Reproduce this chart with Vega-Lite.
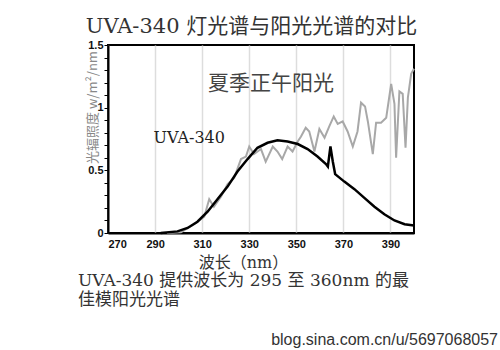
{
  "$schema": "https://vega.github.io/schema/vega-lite/v6.json",
  "background": "white",
  "padding": {"left": 77, "top": 16, "right": 0, "bottom": 0},
  "title": {"text": "blog.sina.com.cn/u/5697068057", "orient": "bottom", "anchor": "end", "dx": 78, "offset": 23, "font": "Liberation Sans", "fontSize": 16, "fontWeight": "normal", "color": "#333"},
  "config": {"view": {"stroke": "black", "strokeWidth": 2}, "concat": {"spacing": 0}},
  "datasets": {
    "spec": [
      {"series": "UVA-340", "wl": 292.4, "v": 0.0},
      {"series": "UVA-340", "wl": 299.5, "v": 0.013},
      {"series": "UVA-340", "wl": 303.8, "v": 0.04},
      {"series": "UVA-340", "wl": 308.0, "v": 0.09},
      {"series": "UVA-340", "wl": 312.3, "v": 0.17},
      {"series": "UVA-340", "wl": 316.5, "v": 0.27},
      {"series": "UVA-340", "wl": 320.8, "v": 0.37},
      {"series": "UVA-340", "wl": 325.0, "v": 0.49},
      {"series": "UVA-340", "wl": 329.3, "v": 0.59},
      {"series": "UVA-340", "wl": 333.5, "v": 0.68},
      {"series": "UVA-340", "wl": 337.8, "v": 0.72},
      {"series": "UVA-340", "wl": 342.0, "v": 0.74},
      {"series": "UVA-340", "wl": 346.3, "v": 0.73},
      {"series": "UVA-340", "wl": 350.6, "v": 0.71},
      {"series": "UVA-340", "wl": 354.8, "v": 0.67},
      {"series": "UVA-340", "wl": 359.0, "v": 0.61},
      {"series": "UVA-340", "wl": 362.6, "v": 0.55},
      {"series": "UVA-340", "wl": 363.4, "v": 0.53},
      {"series": "UVA-340", "wl": 364.5, "v": 0.69},
      {"series": "UVA-340", "wl": 365.5, "v": 0.57},
      {"series": "UVA-340", "wl": 366.5, "v": 0.47},
      {"series": "UVA-340", "wl": 370.4, "v": 0.41},
      {"series": "UVA-340", "wl": 374.7, "v": 0.35},
      {"series": "UVA-340", "wl": 378.9, "v": 0.28},
      {"series": "UVA-340", "wl": 383.2, "v": 0.21},
      {"series": "UVA-340", "wl": 387.4, "v": 0.15},
      {"series": "UVA-340", "wl": 391.7, "v": 0.10},
      {"series": "UVA-340", "wl": 396.0, "v": 0.07},
      {"series": "UVA-340", "wl": 400.0, "v": 0.06},
      {"series": "夏季正午阳光", "wl": 295.0, "v": 0.0},
      {"series": "夏季正午阳光", "wl": 301.0, "v": 0.005},
      {"series": "夏季正午阳光", "wl": 306.6, "v": 0.07},
      {"series": "夏季正午阳光", "wl": 310.9, "v": 0.13},
      {"series": "夏季正午阳光", "wl": 313.0, "v": 0.27},
      {"series": "夏季正午阳光", "wl": 315.0, "v": 0.21},
      {"series": "夏季正午阳光", "wl": 318.0, "v": 0.29},
      {"series": "夏季正午阳光", "wl": 320.8, "v": 0.39},
      {"series": "夏季正午阳光", "wl": 323.6, "v": 0.44},
      {"series": "夏季正午阳光", "wl": 326.5, "v": 0.59},
      {"series": "夏季正午阳光", "wl": 328.6, "v": 0.61},
      {"series": "夏季正午阳光", "wl": 330.0, "v": 0.69},
      {"series": "夏季正午阳光", "wl": 332.0, "v": 0.63},
      {"series": "夏季正午阳光", "wl": 335.0, "v": 0.67},
      {"series": "夏季正午阳光", "wl": 337.0, "v": 0.57},
      {"series": "夏季正午阳光", "wl": 340.0, "v": 0.69},
      {"series": "夏季正午阳光", "wl": 342.0, "v": 0.65},
      {"series": "夏季正午阳光", "wl": 344.0, "v": 0.59},
      {"series": "夏季正午阳光", "wl": 346.3, "v": 0.69},
      {"series": "夏季正午阳光", "wl": 348.4, "v": 0.65},
      {"series": "夏季正午阳光", "wl": 350.6, "v": 0.73},
      {"series": "夏季正午阳光", "wl": 352.0, "v": 0.77},
      {"series": "夏季正午阳光", "wl": 354.0, "v": 0.84},
      {"series": "夏季正午阳光", "wl": 355.5, "v": 0.81},
      {"series": "夏季正午阳光", "wl": 357.7, "v": 0.65},
      {"series": "夏季正午阳光", "wl": 359.8, "v": 0.83},
      {"series": "夏季正午阳光", "wl": 362.0, "v": 0.76},
      {"series": "夏季正午阳光", "wl": 364.0, "v": 0.85},
      {"series": "夏季正午阳光", "wl": 365.9, "v": 0.93},
      {"series": "夏季正午阳光", "wl": 367.6, "v": 0.87},
      {"series": "夏季正午阳光", "wl": 369.7, "v": 0.89},
      {"series": "夏季正午阳光", "wl": 371.8, "v": 0.81},
      {"series": "夏季正午阳光", "wl": 374.0, "v": 0.69},
      {"series": "夏季正午阳光", "wl": 376.0, "v": 0.81},
      {"series": "夏季正午阳光", "wl": 377.5, "v": 1.04},
      {"series": "夏季正午阳光", "wl": 379.2, "v": 1.01},
      {"series": "夏季正午阳光", "wl": 380.4, "v": 0.89},
      {"series": "夏季正午阳光", "wl": 382.5, "v": 0.63},
      {"series": "夏季正午阳光", "wl": 383.9, "v": 0.88},
      {"series": "夏季正午阳光", "wl": 386.0, "v": 0.88},
      {"series": "夏季正午阳光", "wl": 388.2, "v": 0.92},
      {"series": "夏季正午阳光", "wl": 390.3, "v": 1.19},
      {"series": "夏季正午阳光", "wl": 391.7, "v": 1.03},
      {"series": "夏季正午阳光", "wl": 392.4, "v": 0.60},
      {"series": "夏季正午阳光", "wl": 393.8, "v": 1.13},
      {"series": "夏季正午阳光", "wl": 395.2, "v": 1.11},
      {"series": "夏季正午阳光", "wl": 396.4, "v": 0.68},
      {"series": "夏季正午阳光", "wl": 397.4, "v": 1.08},
      {"series": "夏季正午阳光", "wl": 398.8, "v": 1.27},
      {"series": "夏季正午阳光", "wl": 400.0, "v": 1.31}
    ],
    "labels": [
      {"label": "夏季正午阳光", "wl": 339.2, "v": 1.19, "kind": "sun"},
      {"label": "UVA-340", "wl": 304.5, "v": 0.755, "kind": "lamp"}
    ]
  },
  "vconcat": [
    {
      "title": {"text": "UVA-340 灯光谱与阳光光谱的对比", "anchor": "middle", "font": "DejaVu Serif, Noto Sans CJK SC", "fontSize": 21, "fontWeight": "normal", "color": "#333", "offset": 1, "dx": 3},
      "vconcat": [
        {
          "width": 306,
          "height": 188,
          "title": {"text": ["UVA-340 提供波长为 295 至 360nm 的最", "佳模阳光光谱"], "orient": "bottom", "anchor": "start", "frame": "group", "dx": -30, "offset": 3, "font": "DejaVu Serif, Noto Sans CJK SC", "fontSize": 17, "lineHeight": 19, "fontWeight": "normal", "color": "#333"},
          "encoding": {
            "x": {"field": "wl", "type": "quantitative", "scale": {"domain": [270, 400], "nice": false, "zero": false},
              "axis": {"title": "波长（nm）", "values": [270, 290, 310, 330, 350, 370, 390], "grid": true, "gridColor": "#dddddd", "gridWidth": 1.5, "ticks": false, "labelPadding": 5, "labelFont": "Liberation Sans", "labelFontSize": 11, "labelFontWeight": "bold", "labelColor": "#111", "domainColor": "black", "domainWidth": 2, "titleFont": "DejaVu Serif, Noto Sans CJK SC", "titleFontSize": 16, "titleFontWeight": "normal", "titleColor": "#333", "titlePadding": 5, "titleX": 135}},
            "y": {"field": "v", "type": "quantitative", "scale": {"domain": [0, 1.5], "nice": false},
              "axis": {"title": "光辐照度 w/m²/nm", "format": "~g", "values": [0, 0.1, 0.2, 0.3, 0.4, 0.5, 0.6, 0.7, 0.8, 0.9, 1, 1.1, 1.2, 1.3, 1.4, 1.5], "labelExpr": "(datum.value == 0 || datum.value == 0.5 || datum.value == 1 || datum.value == 1.5) ? datum.label : ''", "grid": false, "tickSize": 4, "tickColor": "black", "tickWidth": 1, "labelPadding": 1, "labelFont": "Liberation Sans", "labelFontSize": 11, "labelFontWeight": "bold", "labelColor": "#111", "domainColor": "black", "domainWidth": 2, "titleFont": "Noto Sans CJK SC", "titleFontSize": 13, "titleFontWeight": "normal", "titleColor": "#888", "titleAngle": -90, "titleX": -16, "titleY": 62, "titleAlign": "center", "titleBaseline": "middle"}}
          },
          "layer": [
            {"data": {"name": "spec"}, "transform": [{"filter": "datum.series == '夏季正午阳光'"}], "mark": {"type": "line", "color": "#a8a8a8", "strokeWidth": 2}},
            {"data": {"name": "spec"}, "transform": [{"filter": "datum.series == 'UVA-340'"}], "mark": {"type": "line", "color": "black", "strokeWidth": 2.5}},
            {"data": {"name": "labels"}, "transform": [{"filter": "datum.kind == 'sun'"}], "mark": {"type": "text", "font": "Noto Sans CJK SC", "fontSize": 21, "color": "#444"}, "encoding": {"text": {"field": "label"}}},
            {"data": {"name": "labels"}, "transform": [{"filter": "datum.kind == 'lamp'"}], "mark": {"type": "text", "font": "DejaVu Serif", "fontSize": 16, "color": "#222"}, "encoding": {"text": {"field": "label"}}}
          ]
        }
      ]
    }
  ]
}
